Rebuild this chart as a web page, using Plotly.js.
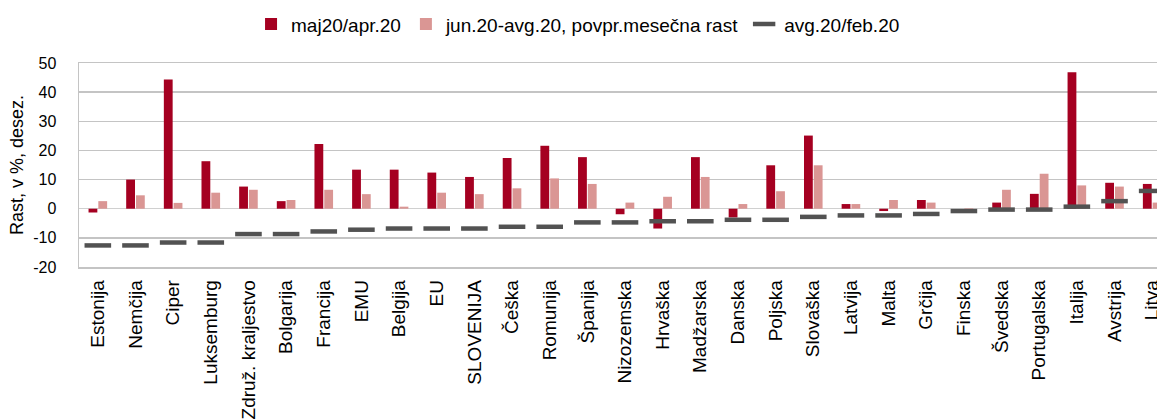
<!DOCTYPE html>
<html>
<head>
<meta charset="utf-8">
<script src="https://cdn.plot.ly/plotly-3.0.1.min.js"></script>
<style>
html,body{margin:0;padding:0;width:1157px;height:419px;overflow:hidden;background:#fff;}
#chart{width:1176px;height:419px;}
</style>
</head>
<body>
<div id="chart"></div>
<script>
const categories = ["Estonija","Nemčija","Ciper","Luksemburg","Združ. kraljestvo","Bolgarija","Francija","EMU","Belgija","EU","SLOVENIJA","Češka","Romunija","Španija","Nizozemska","Hrvaška","Madžarska","Danska","Poljska","Slovaška","Latvija","Malta","Grčija","Finska","Švedska","Portugalska","Italija","Avstrija","Litva"];
const majApr = [-1.3,10.0,44.3,16.3,7.6,2.6,22.2,13.4,13.4,12.4,10.9,17.4,21.6,17.7,-1.9,-6.8,17.7,-3.0,14.9,25.1,1.6,-0.8,3.0,0.0,2.1,5.1,46.8,8.9,8.5];
const junAvg = [2.6,4.6,2.0,5.5,6.5,3.0,6.5,5.0,0.7,5.5,5.0,7.0,10.4,8.5,2.1,4.1,10.9,1.6,6.0,14.9,1.6,3.0,2.1,0.2,6.5,12.0,8.0,7.6,2.1];
const avgFeb = [-12.6,-12.6,-11.6,-11.6,-8.7,-8.7,-7.8,-7.2,-6.8,-6.8,-6.8,-6.2,-6.2,-4.7,-4.7,-4.3,-4.3,-3.8,-3.8,-2.8,-2.3,-2.3,-1.8,-0.8,-0.3,-0.3,0.7,2.6,6.1];
const seriesNames = ["maj20/apr.20","jun.20-avg.20, povpr.mesečna rast","avg.20/feb.20"];
const yTicks = [-20,-10,0,10,20,30,40,50];

const font = "Liberation Sans, Arial, sans-serif";
const data = [
  {type:"bar", x:categories, y:majApr, name:seriesNames[0], marker:{color:"#a50021"}},
  {type:"bar", x:categories, y:junAvg, name:seriesNames[1], marker:{color:"#da9694"}},
  {type:"scatter", mode:"markers", x:categories, y:avgFeb, name:seriesNames[2],
   marker:{symbol:"line-ew", size:19, color:"#525252", line:{color:"#525252", width:4.5}}}
];
const layout = {
  width:1176, height:419,
  margin:{l:79, r:5, t:60, b:152},
  paper_bgcolor:"#fff", plot_bgcolor:"#fff",
  font:{family:font, color:"#000", size:16},
  barmode:"group", bargap:0.48, bargroupgap:0.1,
  showlegend:true,
  legend:{orientation:"h", x:0.457, xanchor:"center", y:1.19, yanchor:"middle",
          font:{family:font, size:19, color:"#000"}, traceorder:"normal", itemwidth:30},
  xaxis:{type:"category", tickangle:-90, tickfont:{family:font, size:19, color:"#000"},
         showline:true, mirror:true, linecolor:"#c4c4c4", linewidth:1.5, ticks:"", ticklabelstandoff:4,
         showgrid:false, range:[-0.5, categories.length-0.5]},
  yaxis:{range:[-20,50], tickvals:yTicks, ticktext:yTicks.map(String), tickfont:{family:font, size:16, color:"#000"},
         showgrid:true, gridcolor:"#c4c4c4", gridwidth:1.5, zeroline:true, zerolinecolor:"#d0d0d0", zerolinewidth:1.5,
         showline:true, mirror:true, linecolor:"#c4c4c4", linewidth:1.5, ticks:"", ticklabelstandoff:18,
         title:{text:"Rast, v %, desez.", font:{family:font, size:18, color:"#000"}, standoff:5}}
};
Plotly.newPlot("chart", data, layout, {displayModeBar:false, staticPlot:true});
</script>
</body>
</html>
